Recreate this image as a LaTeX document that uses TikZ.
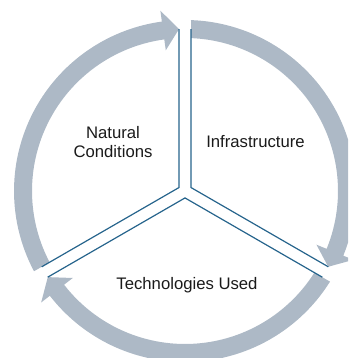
\documentclass[tikz,border=0pt]{standalone}
\usepackage{fontspec}
\setmainfont{Liberation Sans}
\definecolor{ringc}{HTML}{ADB9C6}
\definecolor{linec}{HTML}{26648C}
\definecolor{textc}{HTML}{1A1A1A}
\begin{document}
\begin{tikzpicture}[x=1pt,y=1pt,
  ringarrow/.style={fill=ringc, draw=none},
  divider/.style={draw=linec, line width=1.2pt, line join=miter},
  lbl/.style={font=\fontsize{16.7}{19}\selectfont, align=center, text=textc, inner sep=0pt}]
\useasboundingbox (0,0) rectangle (348,358);
\clip (0,0) rectangle (348,358);
\coordinate (C) at (185,167);
\begin{scope}[shift={(C)}]
  \foreach \t/\h in {210/90, 90/-30, -30/-150} {
    \pgfmathsetmacro\b{\h+2.12+5.66}
    \pgfmathsetmacro\tout{\t-2.01}
    \pgfmathsetmacro\tin{\t-2.25}
    \pgfmathsetmacro\tip{\h+2.12}
    \fill[ringarrow] (\tout:171) arc[start angle=\tout, end angle=\b, radius=171]
      -- (\b:182) -- (\tip:162) -- (\b:142) -- (\b:153)
      arc[start angle=\b, end angle=\tin, radius=153] -- cycle;
  }
  \coordinate (L90p) at (92.12:162.1);
  \coordinate (L90m) at (87.88:162.1);
  \coordinate (L210p) at (212.12:162.1);
  \coordinate (L210m) at (207.88:162.1);
  \coordinate (L330p) at (332.12:162.1);
  \coordinate (L330m) at (327.88:162.1);
  \coordinate (J150) at (150:6.93);
  \coordinate (J30) at (30:6.93);
  \coordinate (J270) at (270:6.93);
  \draw[divider] (L90p) -- (J150) -- (L210m);
  \draw[divider] (L90m) -- (J30) -- (L330p);
  \draw[divider] (L330m) -- (J270) -- (L210p);
\end{scope}
\node[lbl] (nat) at (113,215.5) {Natural\\Conditions};
\node[lbl] (inf) at (255.5,216) {Infrastructure};
\node[lbl] (tech) at (187,73) {Technologies Used};
\end{tikzpicture}
\end{document}
